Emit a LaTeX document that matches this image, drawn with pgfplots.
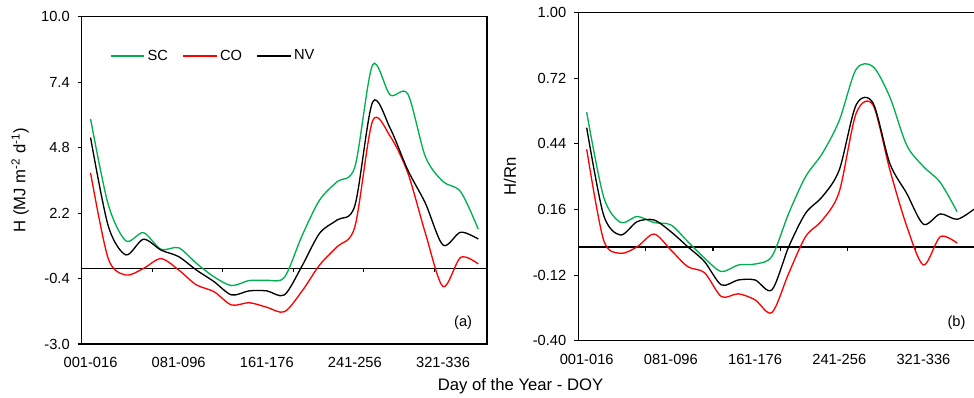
\documentclass[border=0pt]{standalone}
\usepackage{pgfplots}
\pgfplotsset{compat=1.18}
\usepackage{pgfplotstable}
\usepackage{fontspec}
\setmainfont{Liberation Sans}
\definecolor{scgreen}{RGB}{0,176,80}
\definecolor{cored}{RGB}{255,0,0}

\pgfplotstableread{
i sc co nv
0 5.94 3.80 5.20
1 2.55 0.40 1.70
2 1.10 -0.26 0.54
3 1.42 0.00 1.16
4 0.76 0.39 0.73
5 0.82 -0.06 0.47
6 0.21 -0.65 -0.06
7 -0.33 -0.92 -0.52
8 -0.68 -1.45 -1.05
9 -0.48 -1.36 -0.89
10 -0.47 -1.54 -0.89
11 -0.35 -1.72 -1.05
12 1.30 -0.90 0.10
13 2.72 0.14 1.40
14 3.45 0.87 1.93
15 4.04 1.66 2.50
16 8.08 5.85 6.60
17 6.89 5.25 5.57
18 6.93 3.80 3.91
19 4.44 1.40 2.59
20 3.45 -0.72 0.93
21 3.05 0.44 1.44
22 1.56 0.18 1.17
}\tabH

\pgfplotstableread{
i sc co
0 0.575 0.417
1 0.215 0.030
2 0.105 -0.027
3 0.130 0.001
4 0.104 0.055
5 0.094 -0.013
6 0.023 -0.084
7 -0.048 -0.110
8 -0.105 -0.212
9 -0.077 -0.200
10 -0.073 -0.226
11 -0.040 -0.280
12 0.144 -0.112
13 0.300 0.044
14 0.400 0.115
15 0.540 0.236
16 0.758 0.570
17 0.770 0.606
18 0.640 0.330
19 0.435 0.090
20 0.343 -0.077
21 0.275 0.044
22 0.150 0.016
}\tabRa

\pgfplotstableread{
i nv
0 0.509
1 0.137
2 0.051
3 0.108
4 0.115
5 0.065
6 0.001
7 -0.063
8 -0.162
9 -0.141
10 -0.141
11 -0.183
12 0.001
13 0.144
14 0.215
15 0.329
16 0.606
17 0.615
18 0.357
19 0.229
20 0.097
21 0.141
22 0.118
23 0.161
}\tabRb

\pgfplotsset{
  myaxis/.style={
    scale only axis,
    anchor=south west,
    axis line style={line width=1.1pt},
    every tick label/.append style={font=\fontsize{11}{13}\selectfont},
    label style={font=\fontsize{12.5}{15}\selectfont},
    x tick style={draw=none},
    y tick style={black, line width=0.8pt},
    tick align=outside,
    ytick pos=left,
    major tick length=3pt,
    xtick={0,5,10,15,20},
    xticklabels={001-016,081-096,161-176,241-256,321-336},
    xticklabel style={yshift=-3.5pt},
    yticklabel style={xshift=-2.5pt},
    clip=false,
  },
  sc/.style={scgreen, line width=1pt, smooth, no marks},
  co/.style={cored, line width=1pt, smooth, no marks},
  nv/.style={black, line width=1pt, smooth, no marks},
  zl/.style={black, line width=1.4pt, no marks, forget plot},
  zt/.style={black, line width=0.8pt, no marks, forget plot},
}

\begin{document}
\begin{tikzpicture}[font=\fontsize{11}{13}\selectfont]
\useasboundingbox (0,0) rectangle (730.5pt,298.5pt);
\clip (0,0) rectangle (730.5pt,298.5pt);
% ---------- (a) ----------
\begin{axis}[myaxis,
  at={(61.3pt,40.5pt)}, width=304pt, height=245.5pt,
  xmin=-0.5, xmax=22.5, ymin=-3, ymax=10,
  ytick={-3,-0.4,2.2,4.8,7.4,10},
  yticklabels={-3.0,-0.4,2.2,4.8,7.4,10.0},
  ylabel={H (MJ m\textsuperscript{-2} d\textsuperscript{-1})},
  ylabel style={at={(axis description cs:-0.152,0.5)}, anchor=center},
  legend style={draw=none, fill=none, at={(axis description cs:0.06,0.88)}, anchor=west,
    font=\fontsize{11}{13}\selectfont, /tikz/every even column/.append style={column sep=9pt}},
  legend columns=3,
  legend image code/.code={\draw[#1] (0pt,0pt) -- (25pt,0pt);},
]
\addplot[zl] coordinates {(-0.5,0) (22.5,0)};
\addplot[zt] coordinates {(3.5,0) (3.5,-0.16)};
\addplot[zt] coordinates {(7.5,0) (7.5,-0.16)};
\addplot[zt] coordinates {(11.5,0) (11.5,-0.16)};
\addplot[zt] coordinates {(15.5,0) (15.5,-0.16)};
\addplot[zt] coordinates {(19.5,0) (19.5,-0.16)};
\addplot[sc] table[x=i,y=sc] {\tabH};
\addplot[co] table[x=i,y=co] {\tabH};
\addplot[nv] table[x=i,y=nv] {\tabH};
\legend{SC,CO,NV}
\node at (axis description cs:0.941,0.065) {(a)};
\end{axis}
% ---------- (b) ----------
\begin{axis}[myaxis,
  at={(433.7pt,43pt)}, width=303.1pt, height=246pt,
  xmin=-0.5, xmax=23.5, ymin=-0.4, ymax=1.0,
  ytick={-0.4,-0.12,0.16,0.44,0.72,1.0},
  yticklabels={-0.40,-0.12,0.16,0.44,0.72,1.00},
  ylabel={H/Rn},
  ylabel style={at={(axis description cs:-0.169,0.5)}, anchor=center},
]
\addplot[zl] coordinates {(-0.5,0) (23.5,0)};
\addplot[zt] coordinates {(3.5,0) (3.5,-0.017)};
\addplot[zt] coordinates {(7.5,0) (7.5,-0.017)};
\addplot[zt] coordinates {(11.5,0) (11.5,-0.017)};
\addplot[zt] coordinates {(15.5,0) (15.5,-0.017)};
\addplot[zt] coordinates {(19.5,0) (19.5,-0.017)};
\addplot[sc] table[x=i,y=sc] {\tabRa};
\addplot[co] table[x=i,y=co] {\tabRa};
\addplot[nv] table[x=i,y=nv] {\tabRb};
\node at (axis description cs:0.936,0.056) {(b)};
\end{axis}
\node[font=\fontsize{12.5}{15}\selectfont] at (390.4pt,8.6pt) {Day of the Year - DOY};
\end{tikzpicture}
\end{document}
